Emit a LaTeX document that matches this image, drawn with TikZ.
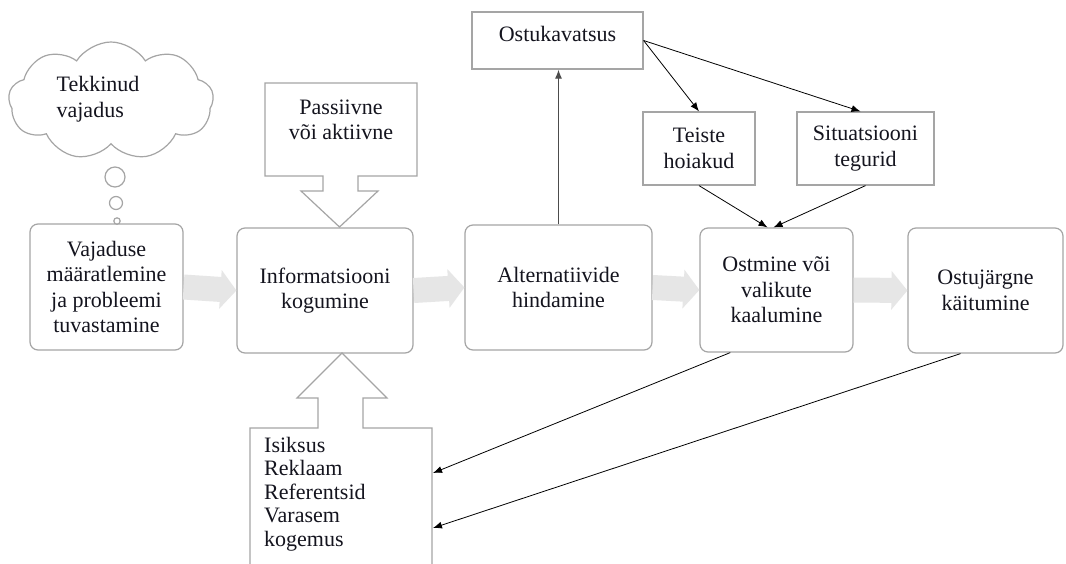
\documentclass[tikz,border=0pt]{standalone}
\usepackage{fontspec}
\setmainfont{Liberation Serif}
\newfontfamily\tnr{Liberation Serif}
\usetikzlibrary{arrows.meta,shapes.symbols,calc}
\definecolor{boxgray}{RGB}{165,165,165}
\definecolor{arrowgray}{RGB}{230,230,230}
\definecolor{txt}{RGB}{20,20,30}
\tikzset{
  txtfont/.style={font=\tnr\fontsize{22}{25.5}\selectfont, text=txt},
  mainbox/.style={draw=boxgray, line width=1.2pt, rounded corners=8pt, fill=white, align=center, txtfont, inner sep=2pt},
  rectbox/.style={draw=boxgray, line width=1.2pt, fill=white, align=center, txtfont, inner sep=2pt},
  outline/.style={draw=boxgray, line width=1.2pt, fill=white},
  flowarrow/.style={line width=25pt, draw=arrowgray, -{Triangle[length=16pt,width=38pt]}},
  thinarrow/.style={draw=black, line width=0.8pt, -{Latex[length=9pt,width=7pt]}},
}
\begin{document}
\begin{tikzpicture}[x=1pt,y=-1pt]
\useasboundingbox (0,0) rectangle (1066,563);
\fill[white] (0,0) rectangle (1066,563);

% main process boxes
\node[mainbox, minimum width=153, minimum height=126] (b1) at (106.5,287) {Vajaduse\\määratlemine\\ja probleemi\\tuvastamine};
\node[mainbox, minimum width=176, minimum height=125] (b2) at (325,290.5) {Informatsiooni\\kogumine};
\node[mainbox, minimum width=187, minimum height=125] (b3) at (558.5,287.5) {Alternatiivide\\hindamine};
\node[mainbox, minimum width=153, minimum height=124] (b4) at (776.5,290) {Ostmine või\\valikute\\kaalumine};
\node[mainbox, minimum width=155, minimum height=125] (b5) at (985.5,290.5) {Ostujärgne\\käitumine};

% block arrows between stages
\draw[flowarrow] (b1.east) -- (b2.west);
\draw[flowarrow] (b2.east) -- (b3.west);
\draw[flowarrow] (b3.east) -- (b4.west);
\draw[flowarrow] (b4.east) -- (b5.west);

% thought cloud
\node[cloud, draw=boxgray, line width=1.2pt, cloud puffs=9, cloud puff arc=115, aspect=1.9, minimum width=205, minimum height=118] (cl) at (111,101) {};
\node[txtfont, align=left, anchor=center] (clt) at (98,99) {Tekkinud\\vajadus};
\draw[outline] (115,177) circle (10);
\draw[outline] (116,203) circle (6.5);
\draw[outline] (117,221) circle (3.2);

% upper callout (Passiivne või aktiivne)
\draw[outline] (265,83) -- (417,83) -- (417,176) -- (358,176) -- (358,191) -- (378,191) -- (339.5,227) -- (301,191) -- (323,191) -- (323,176) -- (265,176) -- cycle;
\node[txtfont, align=center] (pa) at (341,120) {Passiivne\\või aktiivne};

% lower callout
\draw[outline] (250,570) -- (250,428) -- (318,428) -- (318,398) -- (297,398) -- (342,353) -- (387,398) -- (363,398) -- (363,428) -- (432,428) -- (432,570);
\node[align=left, anchor=north west, inner sep=0pt, font=\tnr\fontsize{22}{23.5}\selectfont, text=txt] (bt) at (264,437) {Isiksus\\Reklaam\\Referentsid\\Varasem\\kogemus};
\coordinate (in1) at (433,473);
\coordinate (in2) at (433,528);

% top boxes
\node[rectbox, minimum width=171, minimum height=57, text depth=13pt] (ok) at (557.5,40.5) {Ostukavatsus};
\node[rectbox, minimum width=112, minimum height=73] (te) at (699,148.5) {Teiste\\hoiakud};
\node[rectbox, minimum width=137, minimum height=73] (si) at (865.5,148.5) {Situatsiooni\\tegurid};

% connectors
\draw[thinarrow, draw=gray!60!black, line width=1.1pt] (b3.north) -- (b3.north |- ok.south);
\draw[thinarrow] (ok.east) -- (te.north);
\draw[thinarrow] (ok.east) -- ($(si.north)+(-5,0)$);
\draw[thinarrow] (te.south) -- ($(b4.north)+(-9,0)$);
\draw[thinarrow] (si.south) -- ($(b4.north)+(-3,0)$);
\draw[thinarrow] ($(b4.south west)!0.2!(b4.south east)$) -- (in1);
\draw[thinarrow] ($(b5.south west)!0.34!(b5.south east)$) -- (in2);
\end{tikzpicture}
\end{document}
